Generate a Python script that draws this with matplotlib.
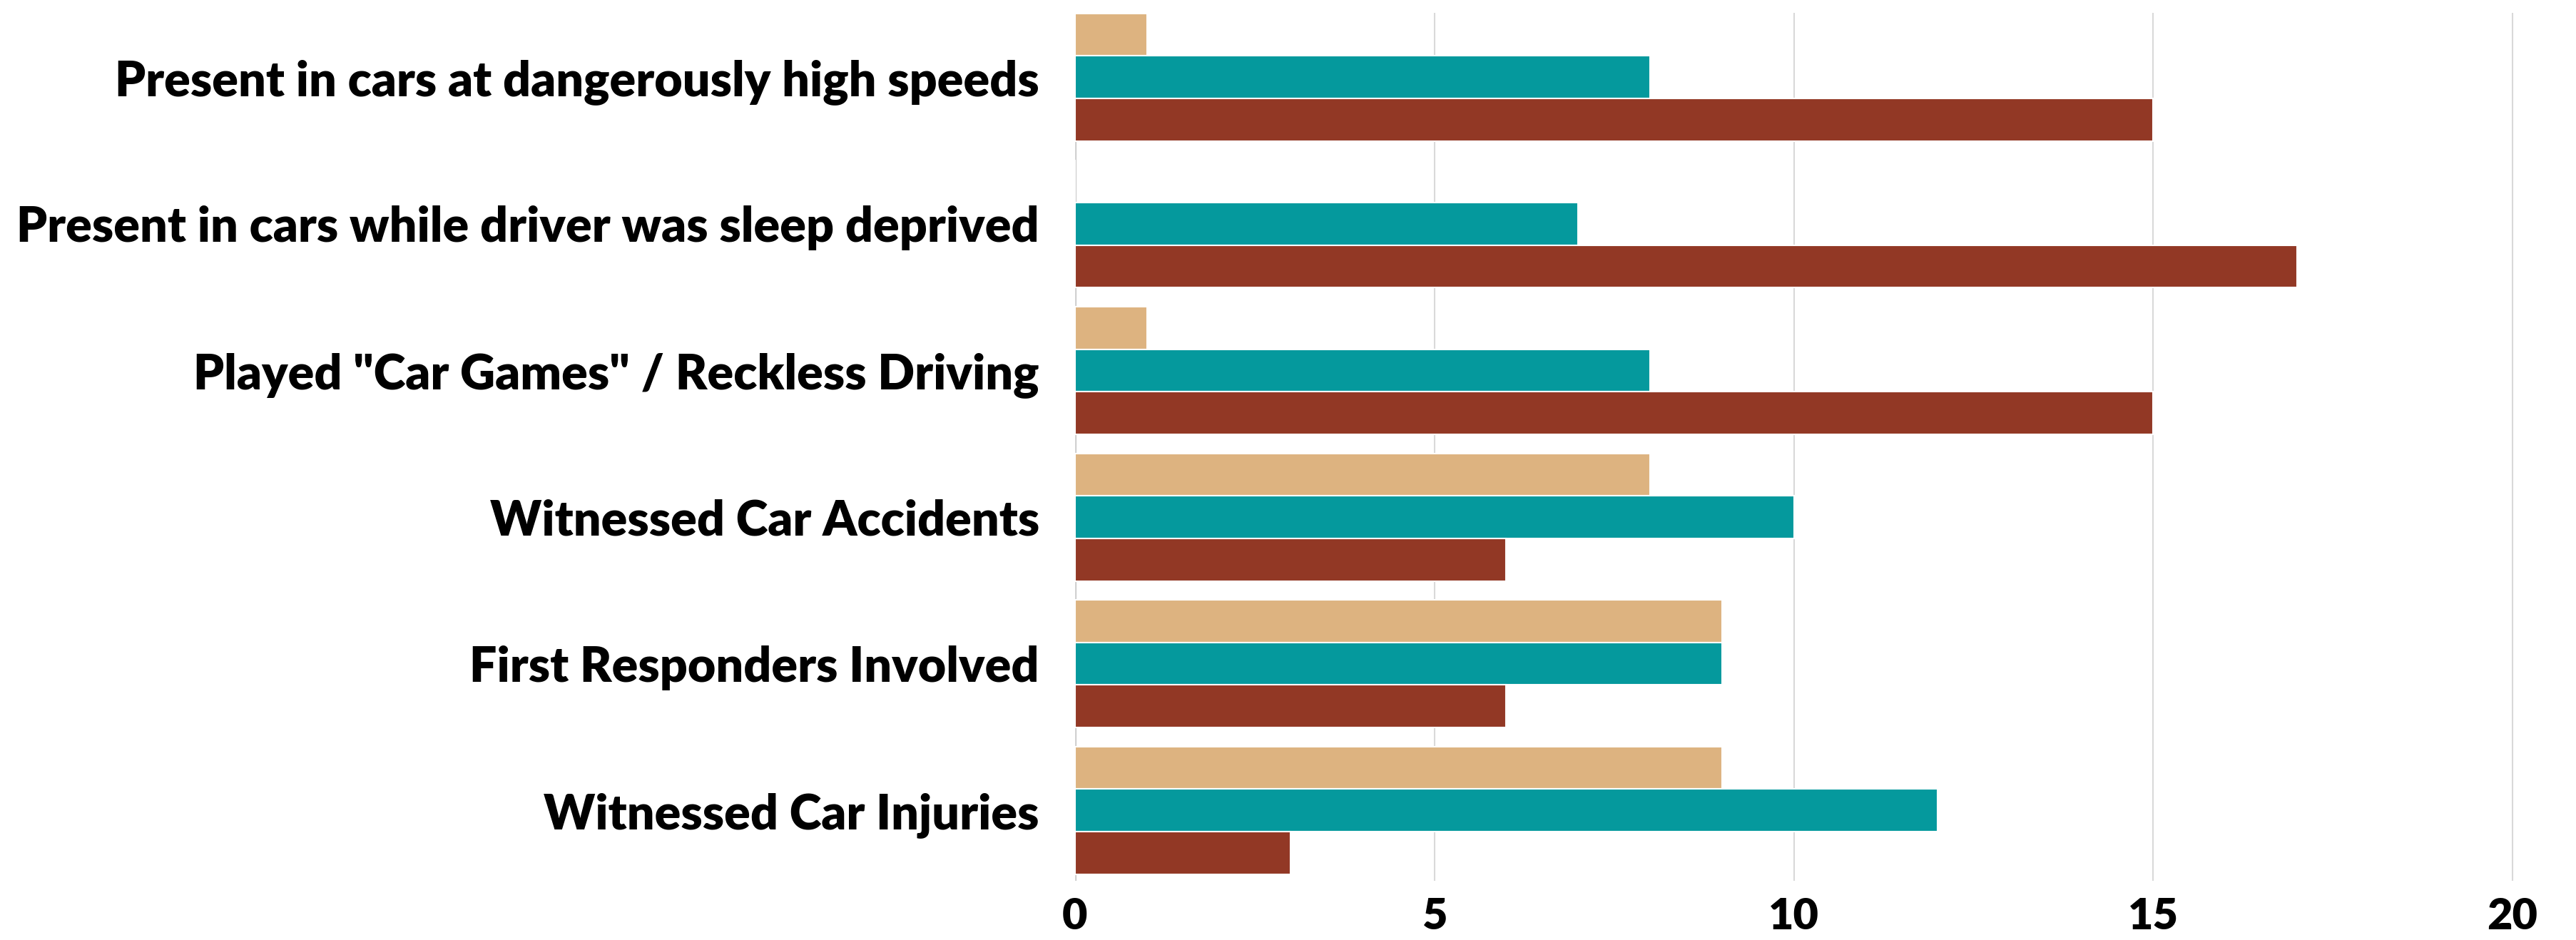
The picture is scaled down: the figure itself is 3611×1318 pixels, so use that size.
import matplotlib
matplotlib.use("Agg")
import matplotlib.pyplot as plt
import numpy as np

categories = ["Present in cars at dangerously high speeds",
              "Present in cars while driver was sleep deprived",
              'Played "Car Games" / Reckless Driving',
              "Witnessed Car Accidents",
              "First Responders Involved",
              "Witnessed Car Injuries"]
tan_vals = [1, 0, 1, 8, 9, 9]
teal_vals = [8, 7, 8, 10, 9, 12]
brown_vals = [15, 17, 15, 6, 6, 3]
colors = ["#DDB380", "#05999D", "#923825"]
xticks = [0, 5, 10, 15, 20]

plt.rcParams['font.family'] = ['Lato', 'DejaVu Sans']

fig = plt.figure(figsize=(36.12, 13.18), dpi=100)
ax = fig.add_axes([0.4172, 0.063, 0.5593, 0.9235])

y = np.arange(len(categories))
h = 0.29
for off, vals, c in zip([-h, 0, h], [tan_vals, teal_vals, brown_vals], colors):
    ax.barh(y + off, vals, height=h, color=c, edgecolor="white", linewidth=1.5, zorder=3)

ax.set_xlim(0, 20.05)
ax.set_ylim(5.48, -0.44)
ax.set_xticks(xticks)
ax.set_yticks(y)
ax.set_yticklabels(categories, fontsize=49, fontweight="heavy")
ax.set_xticklabels([str(t) for t in xticks], fontsize=44, fontweight="heavy")
ax.tick_params(axis="y", length=0, pad=36)
ax.tick_params(axis="x", length=0, pad=16)
ax.grid(axis="x", color="#d9d9d9", linewidth=1.5, zorder=0)
ax.axvline(0, color="#bdbdbd", linewidth=2, zorder=1)
for s in ax.spines.values():
    s.set_visible(False)

fig.savefig("out.png", dpi=100, facecolor="white")
